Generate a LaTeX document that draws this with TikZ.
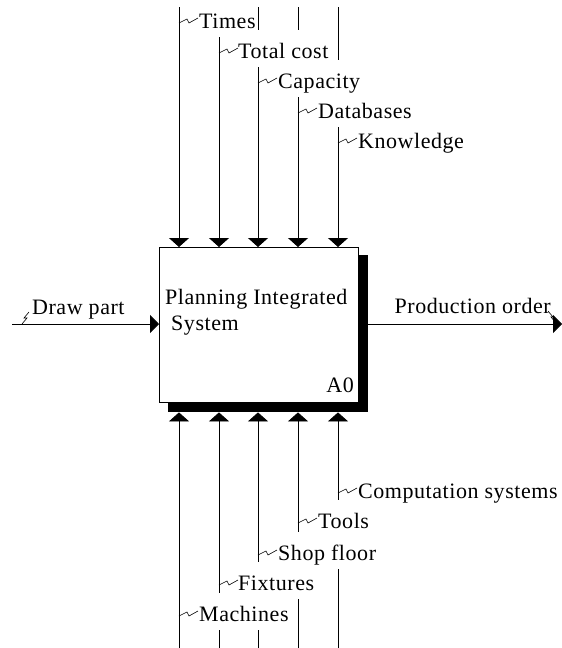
\documentclass[tikz,border=0pt]{standalone}
\usepackage{fontspec}
\setmainfont{Liberation Serif}[LetterSpace=2.5]
\usetikzlibrary{arrows.meta}
\begin{document}
\begin{tikzpicture}[x=1pt,y=-1pt,
  flow/.style={line width=0.8pt,-{Triangle[width=20pt,length=9pt]}},
  hflow/.style={line width=0.8pt,-{Triangle[width=18pt,length=9pt]}},
  lab/.style={font=\fontsize{22}{26}\selectfont, fill=white, inner ysep=0pt, inner xsep=1pt,
    text height=28pt, text depth=9pt, anchor=base west},
  squig/.style={line width=0.6pt},
  boxtext/.style={font=\fontsize{22}{26}\selectfont, inner sep=0pt, anchor=base west}]
\useasboundingbox (0,0) rectangle (562,648);
% shadow and box
\node[fill=black, inner sep=0pt, minimum width=200pt, minimum height=157pt, anchor=north west] (shadow) at (168,255) {};
\node[draw=black, fill=white, line width=0.8pt, inner sep=0pt, minimum width=199pt, minimum height=155pt, anchor=north west] (A0) at (159,247) {};
\node[boxtext] (t1) at (165,304) {Planning Integrated};
\node[boxtext] (t2) at (171,330) {System};
\node[boxtext, anchor=base east] (t3) at (354,392) {A0};
% control and mechanism lines
\foreach \i/\x in {1/179,2/219,3/258,4/298,5/338}{
  \coordinate (c\i) at (\x,7);
  \coordinate (m\i) at (\x,648);
}
\foreach \i in {1,...,5}{
  \draw[flow] (c\i) -- (c\i |- A0.north);
  \draw[flow] (m\i) -- (m\i |- shadow.south);
}
% input / output
\coordinate (inL) at (12,324);
\coordinate (outR) at (562,324);
\draw[hflow] (inL) -- (inL -| A0.west);
\draw[hflow] (shadow.east |- outR) -- (outR);
% top labels (lowest first so upper descenders stay visible)
\node[lab] (l5) at (357,148) {Knowledge};
\node[lab] (l4) at (317,118) {Databases};
\node[lab] (l3) at (277,88) {Capacity};
\node[lab] (l2) at (237,58) {Total cost};
\node[lab] (l1) at (198,28) {Times};
\foreach \i/\x/\b in {1/179/28,2/219/58,3/258/88,4/298/118,5/338/148}{
  \draw[squig] (\x,\b-5) -- (\x+8,\b-9) -- (\x+10,\b-5) -- (\x+19,\b-10);
}
% bottom labels
\node[lab] (b1) at (198,621) {Machines};
\node[lab] (b2) at (237,590) {Fixtures};
\node[lab] (b3) at (277,560) {Shop floor};
\node[lab] (b4) at (317,528) {Tools};
\node[lab] (b5) at (357,498) {Computation systems};
\foreach \i/\x/\b in {1/179/621,2/219/590,3/258/560,4/298/528,5/338/498}{
  \draw[squig] (\x,\b-5) -- (\x+8,\b-9) -- (\x+10,\b-5) -- (\x+19,\b-10);
}
% side labels
\node[boxtext] (dp) at (32,314) {Draw part};
\draw[squig] (22,324) -- (27,318) -- (24,318) -- (29,312);
\node[boxtext, anchor=base east] (po) at (551,313) {Production order};
\draw[squig] (548,311) -- (553,317) -- (551,317) -- (556,323);
\end{tikzpicture}
\end{document}
